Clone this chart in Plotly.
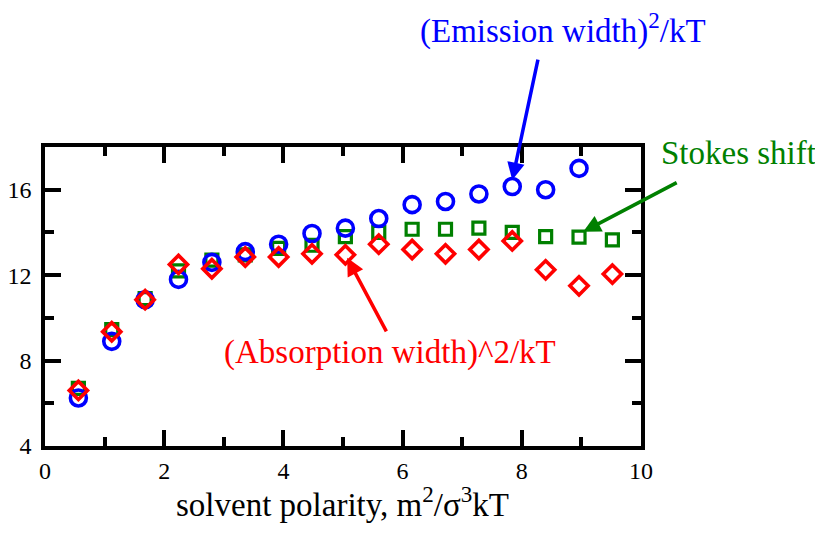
import plotly.graph_objects as go

polarity = [0.56, 1.12, 1.68, 2.24, 2.80, 3.36, 3.92, 4.48, 5.04, 5.60,
            6.16, 6.72, 7.28, 7.84, 8.40, 8.96, 9.52]
emission = [6.25, 8.9, 10.85, 11.8, 12.6, 13.1, 13.45, 13.95, 14.2, 14.65,
            15.3, 15.45, 15.8, 16.15, 16.0, 17.0]
stokes = [6.7, 9.45, 10.9, 12.2, 12.7, 12.95, 13.25, 13.4, 13.8, 14.0,
          14.15, 14.15, 14.2, 14.0, 13.8, 13.78, 13.65]
absorption = [6.6, 9.35, 10.85, 12.5, 12.3, 12.85, 12.85, 13.0, 12.95, 13.45,
              13.2, 13.0, 13.2, 13.6, 12.25, 11.5, 12.05]

xticks = [0, 2, 4, 6, 8, 10]
yticks = [4, 8, 12, 16]

FONT = "Liberation Serif, Times New Roman, serif"
BLUE = "#0000ff"
GREEN = "#008000"
RED = "#ff0000"

fig = go.Figure()
fig.add_trace(go.Scatter(x=polarity[:len(stokes)], y=stokes, mode="markers",
                         marker=dict(symbol="square-open", size=12, color=GREEN,
                                     line=dict(width=3.2, color=GREEN))))
fig.add_trace(go.Scatter(x=polarity[:len(emission)], y=emission, mode="markers",
                         marker=dict(symbol="circle-open", size=16, color=BLUE,
                                     line=dict(width=3.6, color=BLUE))))
fig.add_trace(go.Scatter(x=polarity[:len(absorption)], y=absorption, mode="markers",
                         marker=dict(symbol="diamond-open", size=14, color=RED,
                                     line=dict(width=3.6, color=RED))))

axis_common = dict(showline=True, linecolor="black", linewidth=3.5, mirror="ticks",
                   ticks="inside", ticklen=16, tickwidth=3.5, tickcolor="black",
                   showgrid=False, zeroline=False, automargin=False,
                   tickfont=dict(family=FONT, size=24, color="black"))

fig.update_xaxes(range=[0, 10], tickvals=xticks, ticktext=[str(v) for v in xticks],
                 minor=dict(dtick=1, ticks="inside", ticklen=9, tickwidth=3.5,
                            tickcolor="black", showgrid=False),
                 ticklabelstandoff=0,
                 **axis_common)
fig.update_yaxes(range=[4, 18], tickvals=yticks, ticktext=[str(v) for v in yticks],
                 minor=dict(dtick=2, ticks="inside", ticklen=9, tickwidth=3.5,
                            tickcolor="black", showgrid=False),
                 ticklabelstandoff=5,
                 **axis_common)

PW, PH = 596.0, 299.0
def px(xp):
    return (xp - 45) / PW
def py(yp):
    return (446 - yp) / PH

# Axis title
fig.add_annotation(xref="paper", yref="paper", x=px(342), y=py(502),
                   xanchor="center", yanchor="middle",
                   text="solvent polarity, m<sup>2</sup>/σ<sup>3</sup>kT", showarrow=False,
                   font=dict(family=FONT, size=33, color="black"))

# Labels
fig.add_annotation(xref="paper", yref="paper", x=px(563), y=py(28),
                   xanchor="center", yanchor="middle",
                   text="(Emission width)<sup>2</sup>/kT", showarrow=False,
                   font=dict(family=FONT, size=33, color=BLUE))
fig.add_annotation(xref="paper", yref="paper", x=px(738), y=py(153),
                   xanchor="center", yanchor="middle",
                   text="Stokes shift", showarrow=False,
                   font=dict(family=FONT, size=33, color=GREEN))
fig.add_annotation(xref="paper", yref="paper", x=px(390), y=py(352),
                   xanchor="center", yanchor="middle",
                   text="(Absorption width)^2/kT", showarrow=False,
                   font=dict(family=FONT, size=33, color=RED))

# Arrows
fig.add_annotation(x=7.84, y=16.45, xref="x", yref="y", ax=26, ay=-122, text="",
                   showarrow=True, arrowhead=2, arrowsize=1, arrowwidth=3.5, arrowcolor=BLUE)
fig.add_annotation(x=9.03, y=14.03, xref="x", yref="y", ax=95, ay=-50, text="",
                   showarrow=True, arrowhead=2, arrowsize=1, arrowwidth=3.5, arrowcolor=GREEN)
fig.add_annotation(x=5.07, y=12.81, xref="x", yref="y", ax=40, ay=75, text="",
                   showarrow=True, arrowhead=2, arrowsize=1, arrowwidth=3.5, arrowcolor=RED)

# The page places the figure 8px in from the window corner, so the figure is
# sized to the remaining 815x527 area.
fig.update_layout(width=815, height=527, showlegend=False,
                  plot_bgcolor="white", paper_bgcolor="white",
                  margin=dict(l=37, r=182, t=139, b=89, autoexpand=False),
                  font=dict(family=FONT, color="black"))

fig.write_html("out.html")
